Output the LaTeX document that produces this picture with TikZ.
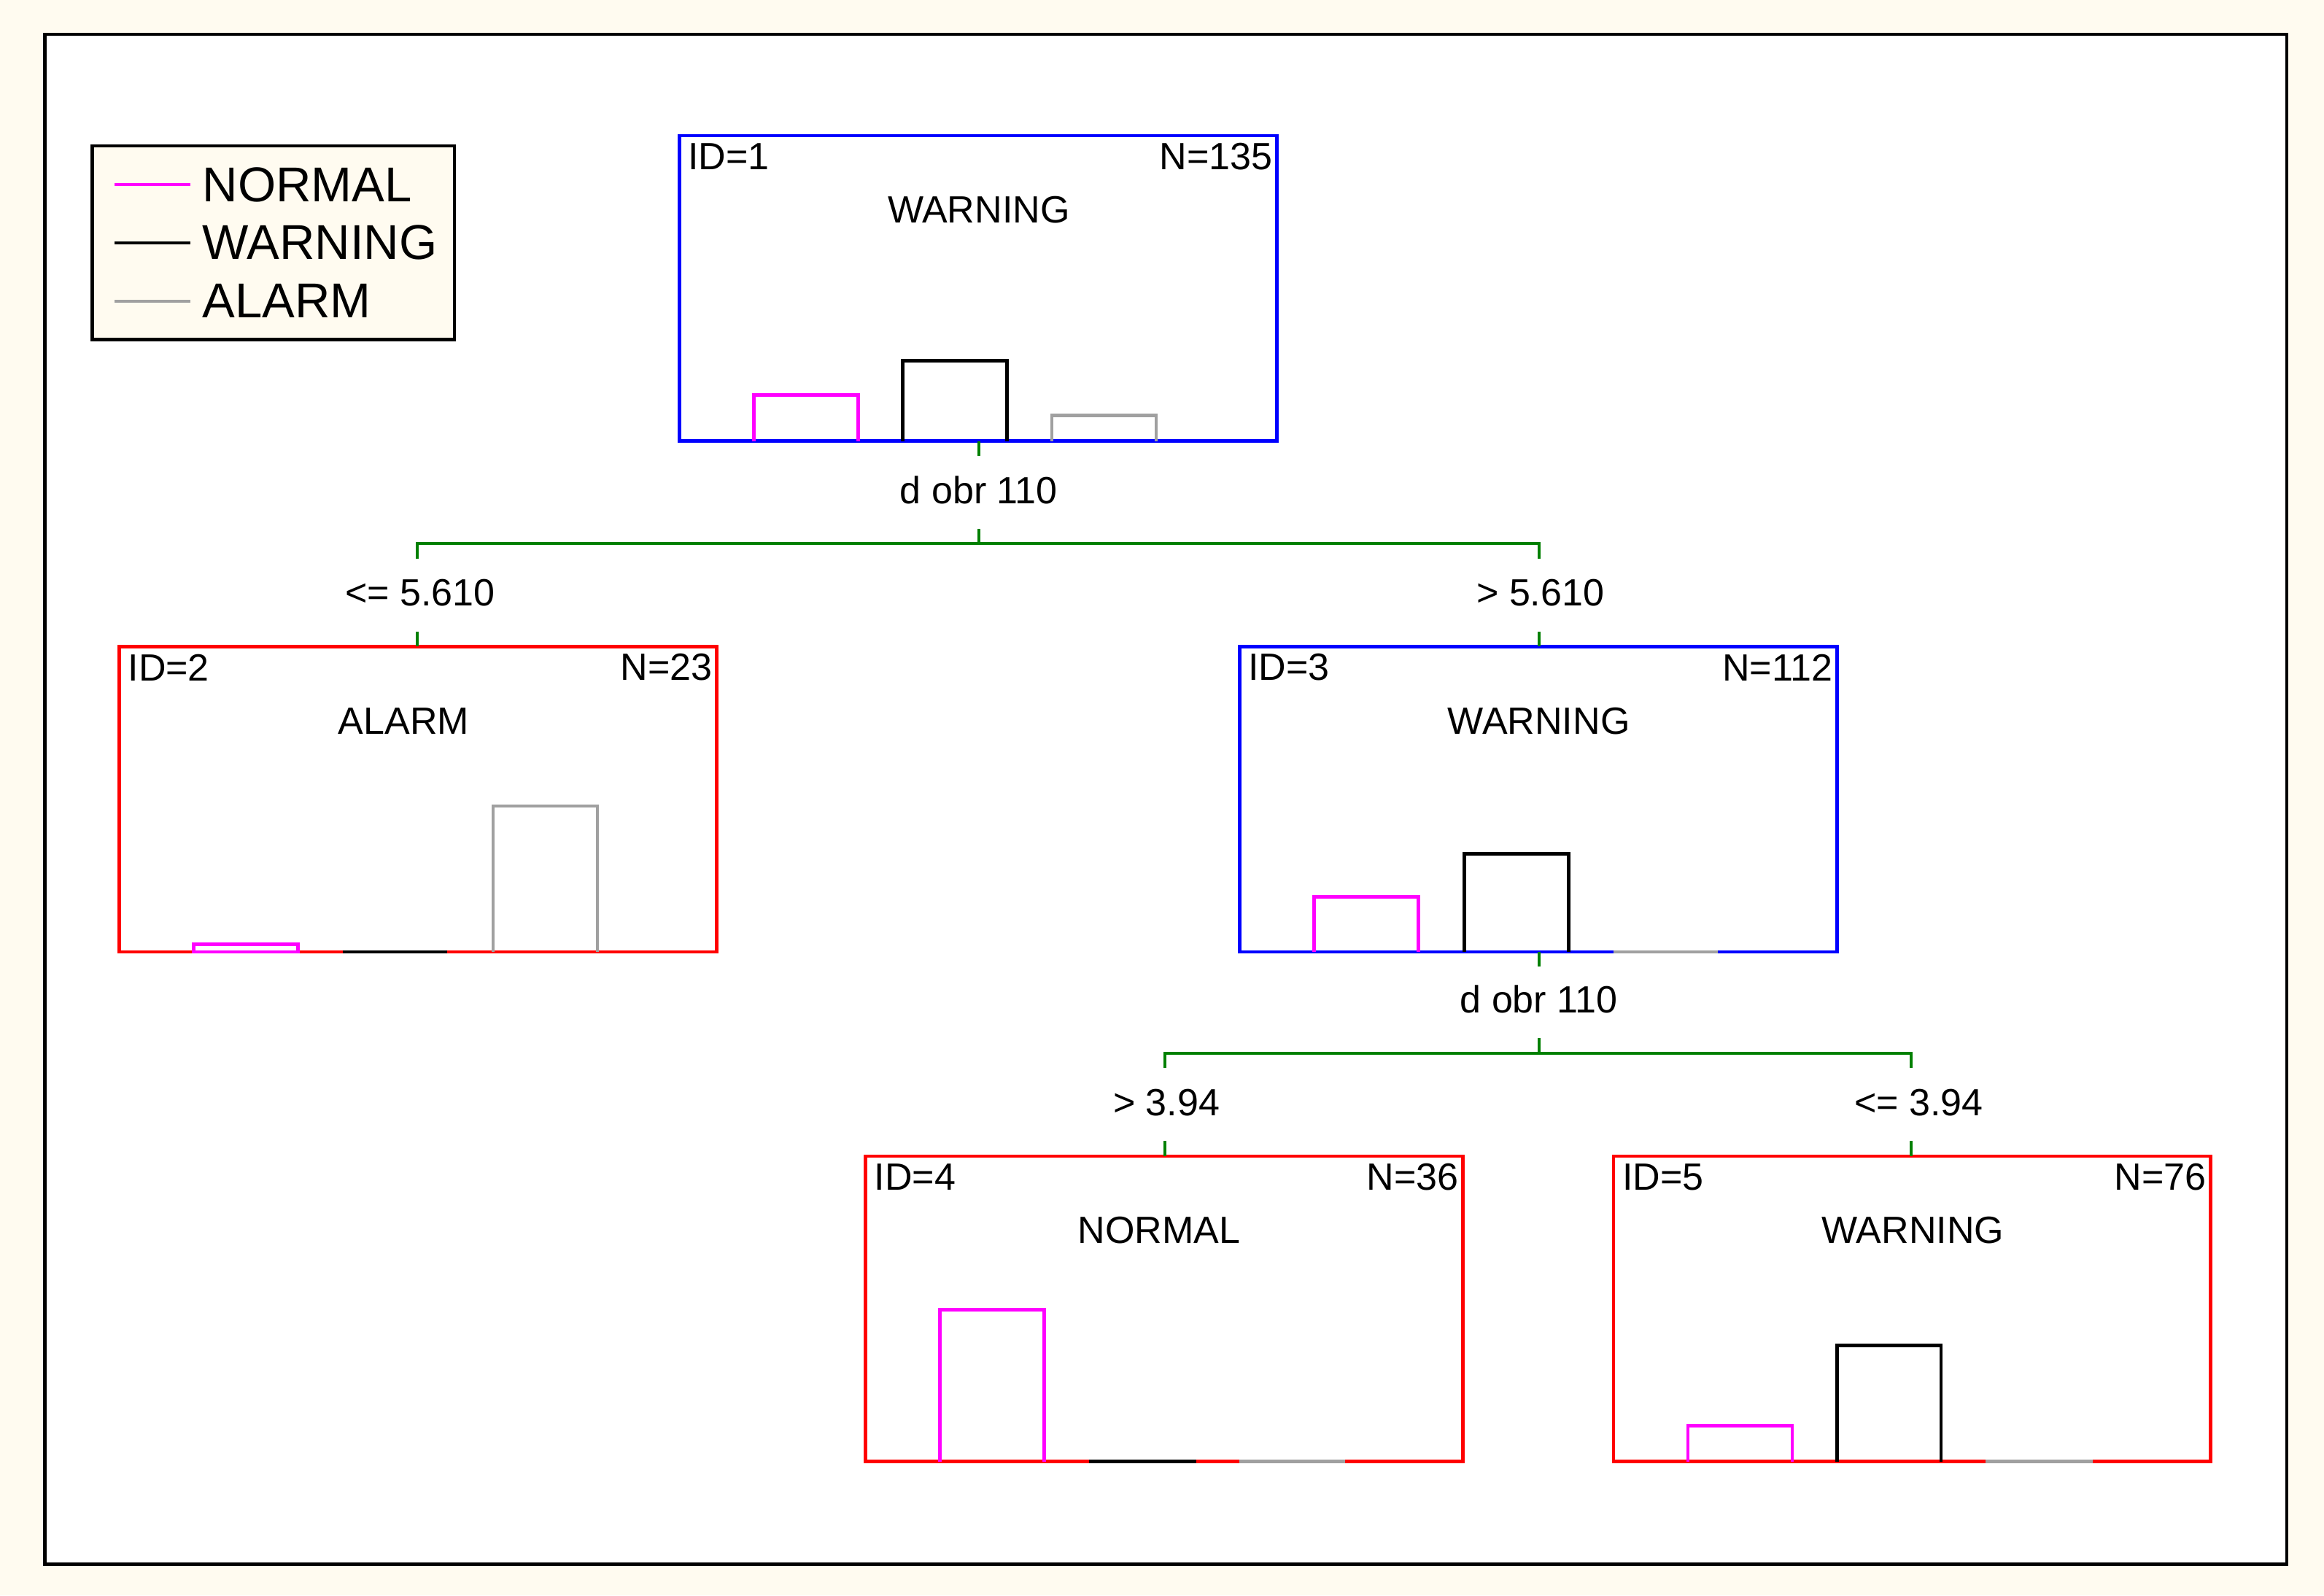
\documentclass[tikz,border=0pt]{standalone}
\usepackage{fontspec}
\setmainfont{Liberation Sans}
\definecolor{cream}{HTML}{FFFBF0}
\definecolor{grn}{HTML}{008000}
\definecolor{gry}{HTML}{A0A0A0}
\definecolor{mag}{HTML}{FF00FF}
\begin{document}
\begin{tikzpicture}[x=0.02cm,y=-0.02cm,line width=1.1pt,
  box/.style={draw,line width=1.3pt},
  lbl/.style={font=\fontsize{14.5}{16}\selectfont,inner sep=0pt},
  leg/.style={font=\fontsize{18.7}{20}\selectfont,anchor=west,inner sep=0pt},
  edge/.style={draw=grn,line width=1.1pt},
  bar/.style={line width=1.3pt}]
\useasboundingbox (0,0) rectangle (1560,1071);
\fill[cream] (0,0) rectangle (1560,1071);
\fill[white] (30,23) rectangle (1535,1050);
\draw[line width=1.3pt] (30,23) rectangle (1535,1050);
% legend
\draw[fill=cream,line width=1.3pt] (62,98) rectangle (305,228);
\draw[mag] (77,124) -- (128,124); \node[leg] (l1) at (135,124) {NORMAL};
\draw[black] (77,163) -- (128,163); \node[leg] (l2) at (135,163) {WARNING};
\draw[gry] (77,202) -- (128,202); \node[leg] (l3) at (135,202) {ALARM};
% node boxes
\newcommand{\tnode}[9]{%
 \draw[box,#1] (#2,#3) rectangle ++(401,205);
 \node[lbl,anchor=west] (#9a) at (#2+5,#3+14) {#4};
 \node[lbl,anchor=east] (#9b) at (#2+399,#3+14) {#5};
 \node[lbl] (#9c) at (#2+201+#6,#3+50) {#7};}
\tnode{blue}{456}{91}{ID=1}{N=135}{0}{WARNING}{}{n1}
\tnode{red}{80}{434}{ID=2}{N=23}{-10}{ALARM}{}{n2}
\tnode{blue}{832}{434}{ID=3}{N=112}{0}{WARNING}{}{n3}
\tnode{red}{581}{776}{ID=4}{N=36}{-4}{NORMAL}{}{n4}
\tnode{red}{1083}{776}{ID=5}{N=76}{0}{WARNING}{}{n5}
% bars
\draw[bar,mag] (506,296) |- (576,265) -- (576,296);
\draw[bar,black] (606,296) |- (676,242) -- (676,296);
\draw[bar,gry] (706,296) |- (776,279) -- (776,296);
\draw[bar,mag] (130,639) |- (200,634) -- (200,639) -- cycle;
\draw[bar,black] (230,639) -- (300,639);
\draw[bar,gry] (331,639) |- (401,541) -- (401,639);
\draw[bar,mag] (882,639) |- (952,602) -- (952,639);
\draw[bar,black] (983,639) |- (1053,573) -- (1053,639);
\draw[bar,gry] (1083,639) -- (1153,639);
\draw[bar,mag] (631,981) |- (701,879) -- (701,981);
\draw[bar,black] (731,981) -- (803,981);
\draw[bar,gry] (832,981) -- (903,981);
\draw[bar,mag] (1133,981) |- (1203,957) -- (1203,981);
\draw[bar,black] (1233,981) |- (1303,903) -- (1303,981);
\draw[bar,gry] (1333,981) -- (1405,981);
% splits
\draw[edge] (657,296) -- (657,306);
\node[lbl] (s1) at (657,329) {d obr 110};
\draw[edge] (657,355) -- (657,365);
\draw[edge] (280,375) -- (280,365) -- (1033,365) -- (1033,375);
\node[lbl] (e1) at (282,398) {<= 5.610};
\node[lbl] (e2) at (1034,398) {> 5.610};
\draw[edge] (280,424) -- (280,434);
\draw[edge] (1033,424) -- (1033,434);
\draw[edge] (1033,639) -- (1033,649);
\node[lbl] (s2) at (1033,671) {d obr 110};
\draw[edge] (1033,697) -- (1033,707);
\draw[edge] (782,717) -- (782,707) -- (1283,707) -- (1283,717);
\node[lbl] (e3) at (783,740) {> 3.94};
\node[lbl] (e4) at (1288,740) {<= 3.94};
\draw[edge] (782,766) -- (782,776);
\draw[edge] (1283,766) -- (1283,776);
\end{tikzpicture}
\end{document}
